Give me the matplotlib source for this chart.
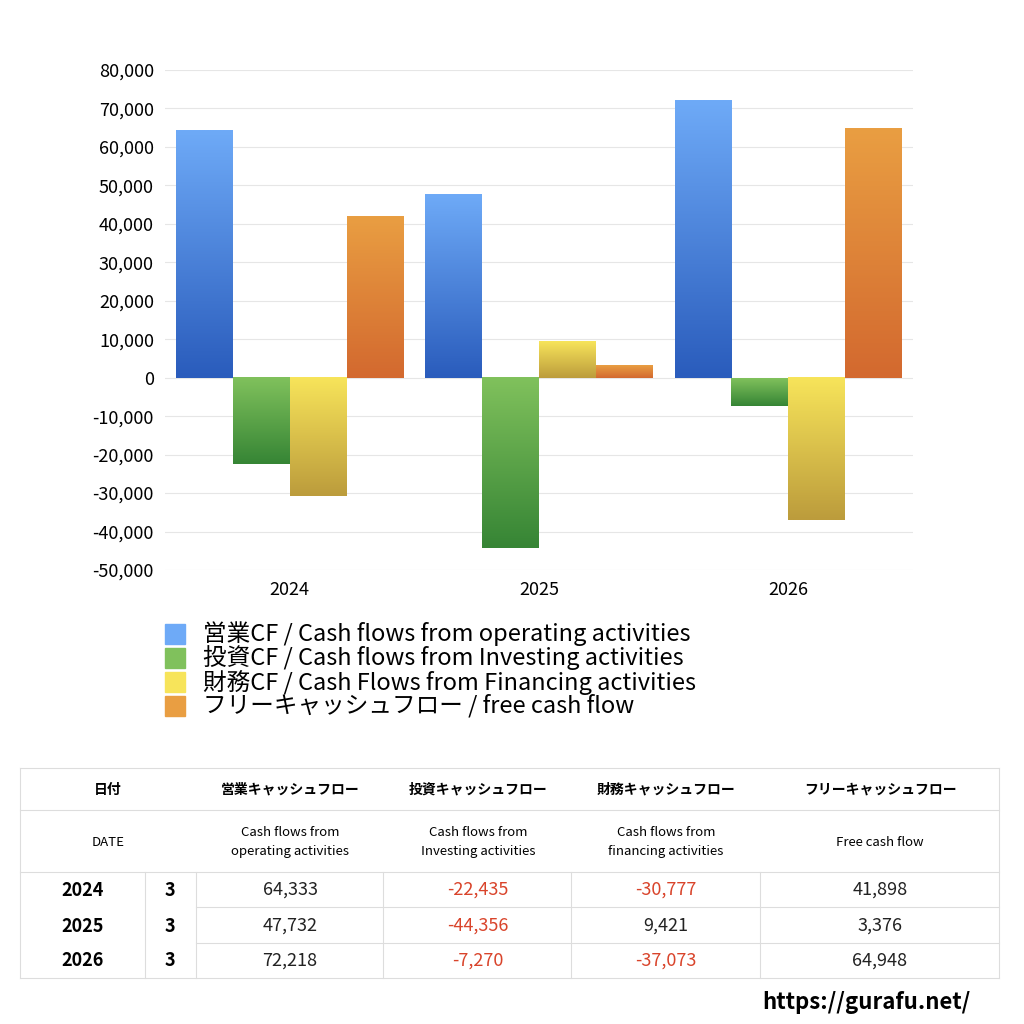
import numpy as np
import matplotlib.pyplot as plt
from matplotlib.colors import LinearSegmentedColormap
from matplotlib.patches import Rectangle

plt.rcParams['font.family'] = ['Noto Sans CJK JP', 'DejaVu Sans']

years = ["2024", "2025", "2026"]
months = ["3", "3", "3"]
operating = [64333, 47732, 72218]
investing = [-22435, -44356, -7270]
financing = [-30777, 9421, -37073]
free_cf = [41898, 3376, 64948]

series = [operating, investing, financing, free_cf]
legend_labels = [
    "営業CF / Cash flows from operating activities",
    "投資CF / Cash flows from Investing activities",
    "財務CF / Cash Flows from Financing activities",
    "フリーキャッシュフロー / free cash flow",
]
# (top colour, bottom colour) of each bar gradient
grads = [("#6eaaf7", "#2a5cbc"), ("#80c15c", "#368535"),
         ("#f7e45a", "#bc9c3c"), ("#e99e42", "#d3692f")]

fig = plt.figure(figsize=(10.24, 10.24), dpi=100)
ax = fig.add_axes([165 / 1024, 1 - 570 / 1024, 748 / 1024, 500 / 1024])

w = 0.228
for i, (vals, (c_top, c_bot)) in enumerate(zip(series, grads)):
    cmap = LinearSegmentedColormap.from_list("g", [c_bot, c_top])
    for g, v in enumerate(vals):
        x0 = g + (i - 2) * w
        lo, hi = min(0, v), max(0, v)
        grad = np.linspace(1, 0, 100).reshape(-1, 1)
        ax.imshow(grad, cmap=cmap, aspect="auto", extent=[x0, x0 + w, lo, hi],
                  vmin=0, vmax=1, zorder=2)

ax.set_xlim(-0.5, 2.5)
ax.set_ylim(-50000, 80000)
ax.set_yticks(range(-50000, 80001, 10000))
ax.set_yticklabels([f"{t:,}" for t in range(-50000, 80001, 10000)], fontsize=13)
ax.set_xticks(range(3))
ax.set_xticklabels(years, fontsize=13)
ax.tick_params(length=0, pad=8)
ax.grid(axis="y", color="#e6e6e6", lw=0.8, zorder=0)
for s in ax.spines.values():
    s.set_visible(False)

# legend
for i, (lab, (c_top, c_bot)) in enumerate(zip(legend_labels, grads)):
    yc = 634 + 24 * i
    fig.patches.append(Rectangle((165 / 1024, 1 - (yc + 10) / 1024), 20 / 1024, 20 / 1024,
                                 transform=fig.transFigure, color=c_top))
    fig.text(203 / 1024, 1 - yc / 1024, lab, fontsize=17, va="center", ha="left")

# table
line_c = "#dddddd"
def hline(y, x0=20, x1=999):
    fig.add_artist(plt.Line2D([x0 / 1024, x1 / 1024], [1 - y / 1024] * 2, color=line_c, lw=0.8))
def vline(x, y0, y1):
    fig.add_artist(plt.Line2D([x / 1024] * 2, [1 - y0 / 1024, 1 - y1 / 1024], color=line_c, lw=0.8))

for y in [768, 810, 872, 978]:
    hline(y)
hline(907, 196)
hline(943, 196)
vline(20, 768, 978)
vline(999, 768, 978)
for x in [145, 196, 383, 571, 760]:
    vline(x, 872, 978)

col_x = [108, 290, 478, 666, 880]
head1 = ["日付", "営業キャッシュフロー", "投資キャッシュフロー", "財務キャッシュフロー", "フリーキャッシュフロー"]
head2 = ["DATE", "Cash flows from\noperating activities", "Cash flows from\nInvesting activities",
         "Cash flows from\nfinancing activities", "Free cash flow"]
for x, h1, h2 in zip(col_x, head1, head2):
    fig.text(x / 1024, 1 - 790 / 1024, h1, fontsize=10, fontweight="bold", ha="center", va="center")
    fig.text(x / 1024, 1 - 842 / 1024, h2, fontsize=9.5, ha="center", va="center", linespacing=1.5)

row_y = [890, 926, 961]
for r, yy in enumerate(row_y):
    fig.text(83 / 1024, 1 - yy / 1024, years[r], fontsize=13, fontweight="bold", ha="center", va="center")
    fig.text(170 / 1024, 1 - yy / 1024, months[r], fontsize=13, fontweight="bold", ha="center", va="center")
    for x, vals in zip(col_x[1:], series):
        v = vals[r]
        fig.text(x / 1024, 1 - yy / 1024, f"{v:,}", fontsize=13, ha="center", va="center",
                 color="#d9442b" if v < 0 else "#222222")

fig.text(970 / 1024, 1 - 1003 / 1024, "https://gurafu.net/", fontsize=16, fontweight="bold",
         ha="right", va="center")

fig.savefig("out.png", dpi=100)
